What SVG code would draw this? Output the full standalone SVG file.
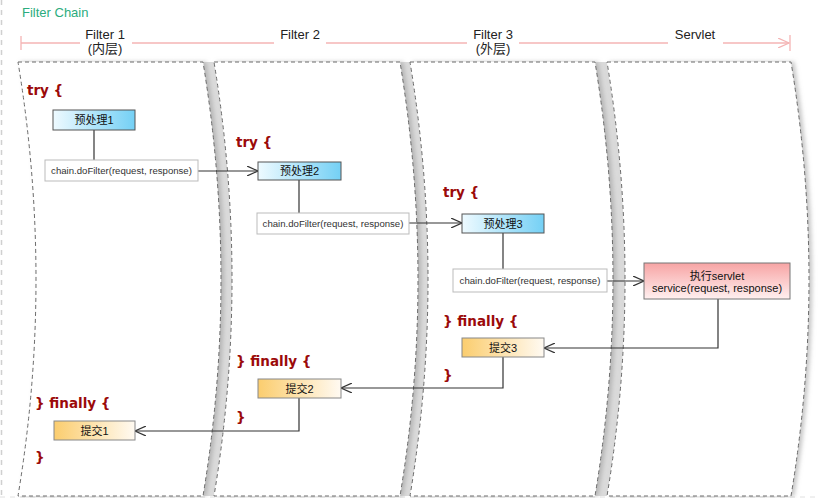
<svg xmlns="http://www.w3.org/2000/svg" width="819" height="498" viewBox="0 0 819 498">
<defs>
<style>
.hdr{font-family:"Liberation Sans","Noto Sans CJK SC",sans-serif;font-size:13px;fill:#222;text-anchor:middle}
.kw{font-family:"DejaVu Sans",sans-serif;font-weight:bold;font-size:13.5px;fill:#9b0a0a}
.nt{font-family:"Liberation Sans","Noto Sans CJK SC",sans-serif;font-size:11px;fill:#111;text-anchor:middle}
.ct{font-family:"Liberation Sans",sans-serif;font-size:9.6px;fill:#333;text-anchor:middle}
.panel{fill:#fff;stroke:#6a6a6a;stroke-width:1;stroke-dasharray:4,3}
.gap{fill:#dadada;stroke:none}
.blue{fill:url(#gBlue);stroke:#555;stroke-width:1}
.orange{fill:url(#gOr);stroke:#888;stroke-width:1}
.call{fill:#fff;stroke:#bbb;stroke-width:1}
.conn{fill:none;stroke:#333;stroke-width:1.2}
</style>
<linearGradient id="gBlue" x1="0" y1="0" x2="1" y2="0">
<stop offset="0" stop-color="#eefaff"/><stop offset="1" stop-color="#74d0f5"/>
</linearGradient>
<linearGradient id="gOr" x1="0" y1="0" x2="1" y2="0">
<stop offset="0" stop-color="#fbcd6e"/><stop offset="1" stop-color="#fffaf2"/>
</linearGradient>
<linearGradient id="gRed" x1="0" y1="0" x2="0" y2="1">
<stop offset="0" stop-color="#f7a4a4"/><stop offset="1" stop-color="#fff0f0"/>
</linearGradient>
<filter id="sh" x="-10%" y="-5%" width="125%" height="110%">
<feDropShadow dx="3" dy="0" stdDeviation="2" flood-color="#999" flood-opacity="0.55"/>
</filter>
<marker id="arr" markerWidth="12" markerHeight="10" refX="11" refY="5" orient="auto" markerUnits="userSpaceOnUse">
<path d="M0,0 L11,5 L0,10" fill="none" stroke="#333" stroke-width="1.2"/>
</marker>
<marker id="harr" markerWidth="12" markerHeight="10" refX="11" refY="5" orient="auto" markerUnits="userSpaceOnUse">
<path d="M0,0 L11,5 L0,10" fill="none" stroke="#f4b4b4" stroke-width="1.2"/>
</marker>
</defs>
<rect width="819" height="498" fill="#fff"/>
<line x1="1.5" y1="0" x2="1.5" y2="498" stroke="#d0d0d0" stroke-width="1.5" stroke-dasharray="5,5"/>
<line x1="0" y1="497" x2="819" y2="497" stroke="#e0e0e0" stroke-width="1" stroke-dasharray="5,5"/>
<text x="22" y="17" font-family="Liberation Sans,sans-serif" font-size="13" fill="#2bac7e">Filter Chain</text>
<g id="header">
<g stroke="#f4b4b4" stroke-width="1.3" fill="none">
<line x1="21" y1="36" x2="21" y2="50"/>
<line x1="21" y1="43" x2="80" y2="43"/>
<line x1="132" y1="43" x2="274" y2="43"/>
<line x1="326" y1="43" x2="467" y2="43"/>
<line x1="519" y1="43" x2="668" y2="43"/>
<line x1="723" y1="43" x2="789" y2="43" marker-end="url(#harr)"/>
<line x1="790" y1="35" x2="790" y2="51"/>
</g>
<text class="hdr" x="105" y="39">Filter 1</text>
<text class="hdr" x="105" y="53">(内层)</text>
<text class="hdr" x="300" y="39">Filter 2</text>
<text class="hdr" x="493" y="39">Filter 3</text>
<text class="hdr" x="493" y="53">(外层)</text>
<text class="hdr" x="695" y="39">Servlet</text>
</g>
<g id="gaps">
<path class="gap" d="M203,62 L214,62 Q250,280 214,496 L203,496 Q239,280 203,62 Z"/>
<path class="gap" d="M400,62 L410,62 Q446,280 410,496 L400,496 Q436,280 400,62 Z"/>
<path class="gap" d="M595,62 L607,62 Q643,280 607,496 L595,496 Q631,280 595,62 Z"/>
</g>
<g id="panels" filter="url(#sh)">
<path id="panel1" class="panel" d="M18,62 L203,62 Q239,280 203,496 L18,496 Q54,280 18,62 Z"/>
<path id="panel2" class="panel" d="M214,62 L400,62 Q436,280 400,496 L214,496 Q250,280 214,62 Z"/>
<path id="panel3" class="panel" d="M410,62 L595,62 Q631,280 595,496 L410,496 Q446,280 410,62 Z"/>
<path id="panel4" class="panel" d="M607,62 L791,62 Q827,280 791,496 L607,496 Q643,280 607,62 Z"/>
</g>
<g id="keywords">
<text class="kw" x="27" y="95">try {</text>
<text class="kw" x="35" y="408">} finally {</text>
<text class="kw" x="35" y="462">}</text>
<text class="kw" x="236" y="147">try {</text>
<text class="kw" x="236" y="366">} finally {</text>
<text class="kw" x="236" y="422">}</text>
<text class="kw" x="443" y="197">try {</text>
<text class="kw" x="443" y="326">} finally {</text>
<text class="kw" x="443" y="380">}</text>
</g>
<g id="connectors">
<line class="conn" x1="94" y1="130" x2="94" y2="160"/>
<line class="conn" x1="198" y1="171" x2="258" y2="171" marker-end="url(#arr)"/>
<line class="conn" x1="299" y1="180" x2="299" y2="213"/>
<line class="conn" x1="409" y1="223" x2="462" y2="223" marker-end="url(#arr)"/>
<line class="conn" x1="503" y1="233" x2="503" y2="269"/>
<line class="conn" x1="607" y1="281" x2="644" y2="281" marker-end="url(#arr)"/>
<polyline class="conn" points="718,299 718,348 544,348" marker-end="url(#arr)"/>
<polyline class="conn" points="503,357 503,388 341,388" marker-end="url(#arr)"/>
<polyline class="conn" points="299,398 299,431 135,431" marker-end="url(#arr)"/>
</g>
<g id="pre1"><rect class="blue" x="53" y="110" width="82" height="20"/><text class="nt" x="94" y="124">预处理1</text></g>
<g id="call1"><rect class="call" x="45" y="160" width="153" height="21"/><text class="ct" x="121.5" y="174">chain.doFilter(request, response)</text></g>
<g id="pre2"><rect class="blue" x="258" y="162" width="83" height="18"/><text class="nt" x="299.5" y="175">预处理2</text></g>
<g id="call2"><rect class="call" x="257" y="213" width="152" height="21"/><text class="ct" x="333" y="227">chain.doFilter(request, response)</text></g>
<g id="pre3"><rect class="blue" x="462" y="214" width="82" height="19"/><text class="nt" x="503" y="227.5">预处理3</text></g>
<g id="call3"><rect class="call" x="453" y="269" width="154" height="23"/><text class="ct" x="530" y="284">chain.doFilter(request, response)</text></g>
<g id="servlet"><rect x="644" y="263" width="146" height="36" fill="url(#gRed)" stroke="#777" stroke-width="1"/><text class="nt" x="717" y="280">执行servlet</text><text class="nt" x="717" y="292">service(request, response)</text></g>
<g id="commit3"><rect class="orange" x="462" y="338" width="82" height="19"/><text class="nt" x="503" y="351.5">提交3</text></g>
<g id="commit2"><rect class="orange" x="258" y="379" width="83" height="19"/><text class="nt" x="299.5" y="392.5">提交2</text></g>
<g id="commit1"><rect class="orange" x="54" y="421" width="81" height="19"/><text class="nt" x="94.5" y="434.5">提交1</text></g>
</svg>
